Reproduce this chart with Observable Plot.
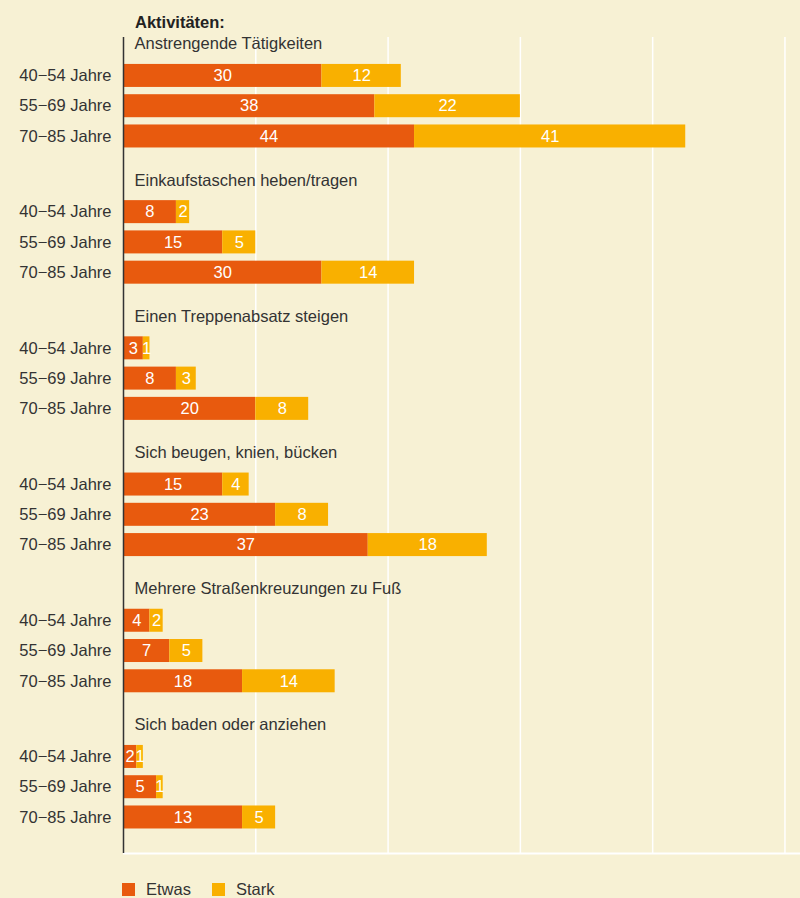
<!DOCTYPE html>
<html>
<head>
<meta charset="utf-8">
<script src="https://cdn.jsdelivr.net/npm/d3@7"></script>
<script src="https://cdn.jsdelivr.net/npm/@observablehq/plot@0.6"></script>
<style>
  html, body { margin: 0; padding: 0; background: #f7f1d4; }
  body { width: 800px; height: 898px; position: relative; overflow: hidden;
         font-family: "Liberation Sans", Arial, sans-serif; color: #333; }
  #title { position: absolute; top: 12px; left: 135px; font-size: 16.5px; font-weight: bold; line-height: 20px; color: #222; }
  #chart { position: absolute; top: 30px; left: 0; }
  #legend { position: absolute; top: 880px; left: 122px; font-size: 16.5px; line-height: 19px; display: flex; align-items: center; }
  #legend .sw { display: inline-block; width: 13px; height: 13px; margin-right: 11px; }
  #legend .item { display: flex; align-items: center; margin-right: 21px; }
</style>
</head>
<body>
<div id="title">Aktivitäten:</div>
<div id="chart"></div>
<div id="legend"></div>
<script>
// ---- data ----
const groups = [
  "Anstrengende Tätigkeiten",
  "Einkaufstaschen heben/tragen",
  "Einen Treppenabsatz steigen",
  "Sich beugen, knien, bücken",
  "Mehrere Straßenkreuzungen zu Fuß",
  "Sich baden oder anziehen"
];
const ages = ["40−54 Jahre", "55−69 Jahre", "70−85 Jahre"];
// printed labels (Etwas)
const etwas = [30, 38, 44, 8, 15, 30, 3, 8, 20, 15, 23, 37, 4, 7, 18, 2, 5, 13];
// bar lengths as drawn in the picture (the "13" bar is drawn to ~18)
const etwasBar = [30, 38, 44, 8, 15, 30, 3, 8, 20, 15, 23, 37, 4, 7, 18, 2, 5, 18];
const stark = [12, 22, 41, 2, 5, 14, 1, 3, 8, 4, 8, 18, 2, 5, 14, 1, 1, 5];
const gridTicks = [20, 40, 60, 80, 100];
const seriesNames = ["Etwas", "Stark"];
const colors = ["#e85a0e", "#f9b000"];

// ---- layout table ----
const rows = [];
groups.forEach((g, i) => ages.forEach((a, j) => {
  const k = i * 3 + j;
  rows.push({group: g, age: a, pos: i * 4.5 + j + 1,
             etwas: etwasBar[k], etwasLabel: etwas[k], stark: stark[k]});
}));
const heads = groups.map((g, i) => ({group: g, pos: i * 4.5}));
const half = 0.38;
const yMin = -0.27, yMax = 26.69;
const font = "Liberation Sans, Arial, sans-serif";

const chart = Plot.plot({
  width: 800,
  height: 828,
  marginTop: 7,
  marginBottom: 5,
  marginLeft: 123,
  marginRight: 0,
  style: {background: "transparent", fontFamily: font, fontSize: "16px"},
  x: {domain: [0, 102.35], axis: null},
  y: {domain: [yMin, yMax], reverse: true, axis: null},
  marks: [
    Plot.ruleX(gridTicks, {stroke: "white", strokeWidth: 1.5}),
    Plot.ruleY([yMax], {stroke: "white", strokeWidth: 2}),
    Plot.rect(rows, {x1: 0, x2: "etwas", y1: d => d.pos - half, y2: d => d.pos + half, fill: colors[0]}),
    Plot.rect(rows, {x1: "etwas", x2: d => d.etwas + d.stark, y1: d => d.pos - half, y2: d => d.pos + half, fill: colors[1]}),
    Plot.text(rows, {x: d => d.etwas / 2, y: "pos", text: "etwasLabel", fill: "white", fontSize: 16.5}),
    Plot.text(rows, {x: d => d.etwas + d.stark / 2, y: "pos", text: "stark", fill: "white", fontSize: 16.5}),
    Plot.text(rows, {x: 0, y: "pos", text: "age", textAnchor: "end", dx: -12, fill: "#333", fontSize: 16.5, letterSpacing: 0.3}),
    Plot.text(heads, {x: 0, y: "pos", text: "group", textAnchor: "start", dx: 11, dy: -1.5, fill: "#333", fontSize: 16.5}),
    Plot.ruleX([0], {stroke: "#333", strokeWidth: 1.5})
  ]
});
document.getElementById("chart").appendChild(chart);

const legend = document.getElementById("legend");
seriesNames.forEach((n, i) => {
  const item = document.createElement("span");
  item.className = "item";
  const sw = document.createElement("span");
  sw.className = "sw";
  sw.style.background = colors[i];
  item.appendChild(sw);
  item.appendChild(document.createTextNode(n));
  legend.appendChild(item);
});
</script>
</body>
</html>
